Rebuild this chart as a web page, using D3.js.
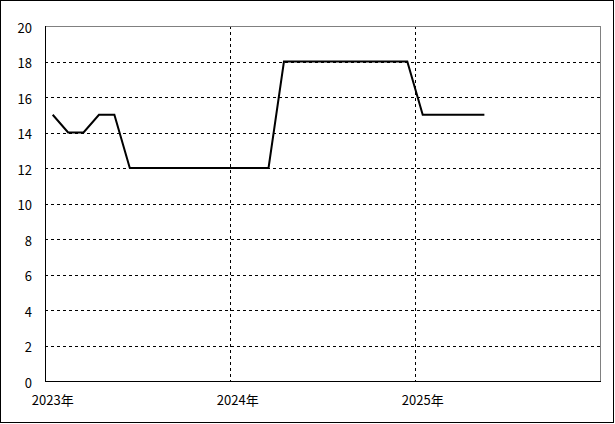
<!DOCTYPE html>
<html>
<head>
<meta charset="utf-8">
<script src="https://cdn.jsdelivr.net/npm/d3@7"></script>
<style>
  html, body { margin: 0; padding: 0; background: #fff; }
  svg { display: block; }
  text { font-family: "Noto Sans CJK JP", "Liberation Sans", sans-serif; font-size: 13px; fill: #000; }
</style>
</head>
<body>
<svg id="chart" width="615" height="424"></svg>
<script>
// ---- data ----
const months = [
  "2023-01","2023-02","2023-03","2023-04","2023-05","2023-06","2023-07","2023-08","2023-09","2023-10","2023-11","2023-12",
  "2024-01","2024-02","2024-03","2024-04","2024-05","2024-06","2024-07","2024-08","2024-09","2024-10","2024-11","2024-12",
  "2025-01","2025-02","2025-03","2025-04","2025-05"
];
const values = [
  15, 14, 14, 15, 15, 12, 12, 12, 12, 12, 12, 12,
  12, 12, 12, 18, 18, 18, 18, 18, 18, 18, 18, 18,
  15, 15, 15, 15, 15
];
const allMonths = d3.range(36).map(i => {
  const yr = 2023 + Math.floor(i / 12), m = (i % 12) + 1;
  return yr + "-" + String(m).padStart(2, "0");
});
const yearLabels = ["2023年", "2024年", "2025年"];
const yearStarts = ["2023-01", "2024-01", "2025-01"];
const yTicks = [0, 2, 4, 6, 8, 10, 12, 14, 16, 18, 20];

// ---- layout ----
const svg = d3.select("#chart");
const pL = 45, pR = 600, pT = 26, pB = 381;

const x = d3.scaleBand().domain(allMonths).range([pL, pR]).padding(0);
const y = d3.scaleLinear().domain([0, 20]).range([pB, pT]);

// outer frame
svg.append("rect")
  .attr("x", 0.5).attr("y", 0.5).attr("width", 613).attr("height", 422)
  .attr("fill", "#fff").attr("stroke", "#000").attr("stroke-width", 1);

// horizontal gridlines
svg.append("g").selectAll("line")
  .data(yTicks.filter(t => t > 0 && t < 20))
  .join("line")
  .attr("x1", pL).attr("x2", pR)
  .attr("y1", d => Math.round(y(d)) + 0.5).attr("y2", d => Math.round(y(d)) + 0.5)
  .attr("stroke", "#000").attr("stroke-width", 1).attr("stroke-dasharray", "3,3")
  .attr("shape-rendering", "crispEdges");

// vertical gridlines at year starts (excluding first)
svg.append("g").selectAll("line")
  .data(yearStarts.slice(1))
  .join("line")
  .attr("x1", d => Math.round(x(d)) + 0.5).attr("x2", d => Math.round(x(d)) + 0.5)
  .attr("y1", pT).attr("y2", pB)
  .attr("stroke", "#000").attr("stroke-width", 1).attr("stroke-dasharray", "3,3")
  .attr("shape-rendering", "crispEdges");

// plot border: top and right grey
svg.append("path")
  .attr("d", `M${pL},${pT + 0.5}H${pR + 0.5}V${pB}`)
  .attr("fill", "none").attr("stroke", "#808080").attr("stroke-width", 1)
  .attr("shape-rendering", "crispEdges");

// axes lines: left and bottom black
svg.append("path")
  .attr("d", `M${pL + 0.5},${pT}V${pB + 0.5}H${pR + 1}`)
  .attr("fill", "none").attr("stroke", "#000").attr("stroke-width", 1)
  .attr("shape-rendering", "crispEdges");

// y labels
svg.append("g").selectAll("text")
  .data(yTicks)
  .join("text")
  .attr("x", 32).attr("y", d => y(d) + 1)
  .attr("text-anchor", "end").attr("dominant-baseline", "central")
  .text(d => d);

// x labels centered on January band
svg.append("g").selectAll("text")
  .data(yearStarts)
  .join("text")
  .attr("x", d => x(d) + x.bandwidth() / 2)
  .attr("y", 399)
  .attr("text-anchor", "middle").attr("dominant-baseline", "central")
  .text((d, i) => yearLabels[i]);

// line
const line = d3.line()
  .x((d, i) => x(months[i]) + x.bandwidth() / 2)
  .y(d => y(d));
svg.append("path")
  .datum(values)
  .attr("d", line)
  .attr("fill", "none").attr("stroke", "#000").attr("stroke-width", 2)
  .attr("stroke-linejoin", "miter");
</script>
</body>
</html>
